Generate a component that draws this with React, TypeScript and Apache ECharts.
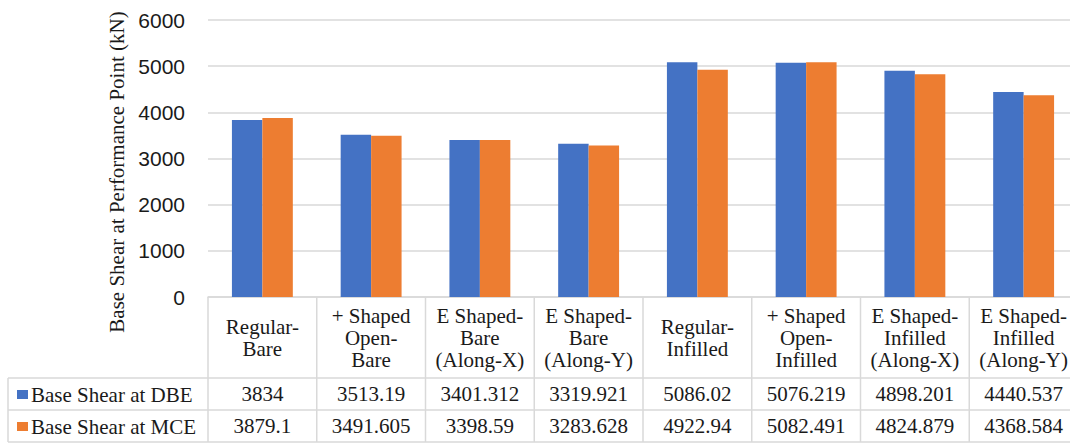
import React, { useEffect, useRef } from "react";
import * as echarts from "echarts";

const categories = [
  "Regular-\nBare",
  "+ Shaped\nOpen-\nBare",
  "E Shaped-\nBare\n(Along-X)",
  "E Shaped-\nBare\n(Along-Y)",
  "Regular-\nInfilled",
  "+ Shaped\nOpen-\nInfilled",
  "E Shaped-\nInfilled\n(Along-X)",
  "E Shaped-\nInfilled\n(Along-Y)",
];
const dbeValues = [3834, 3513.19, 3401.312, 3319.921, 5086.02, 5076.219, 4898.201, 4440.537];
const mceValues = [3879.1, 3491.605, 3398.59, 3283.628, 4922.94, 5082.491, 4824.879, 4368.584];
const seriesNames = ["Base Shear at DBE", "Base Shear at MCE"];
const yAxisTitle = "Base Shear at Performance Point (kN)";
const yMin = 0;
const yMax = 6000;
const yInterval = 1000;

const BLUE = "#4472C4";
const ORANGE = "#ED7D31";
const LINE = "#d9d9d9";
const TEXT = "#1a1a1a";
const SERIF = "Liberation Serif";
const SANS = "Liberation Sans";
const FS = 21;

// layout
const GL = 208;
const GW = 870;
const GT = 20;
const AXIS_Y = 297;
const ROW1 = 378;
const ROW2 = 410;
const ROW3 = 442;
const TABLE_LEFT = 8;

export default function App() {
  const ref = useRef<HTMLDivElement>(null);
  useEffect(() => {
    if (!ref.current) return;
    const chart = echarts.init(ref.current, undefined, { renderer: "svg" });
    const catW = GW / categories.length;
    const lines: any[] = [];
    [ROW1, ROW2, ROW3].forEach((y) => {
      lines.push({
        type: "line",
        shape: { x1: TABLE_LEFT, y1: y, x2: GL + GW, y2: y },
        style: { stroke: LINE, lineWidth: 1.5 },
        silent: true,
      });
    });
    lines.push({
      type: "line",
      shape: { x1: TABLE_LEFT, y1: ROW1, x2: TABLE_LEFT, y2: ROW3 },
      style: { stroke: LINE, lineWidth: 1.5 },
      silent: true,
    });
    for (let i = 0; i <= categories.length; i++) {
      const x = GL + i * catW;
      lines.push({
        type: "line",
        shape: { x1: x, y1: AXIS_Y, x2: x, y2: ROW3 },
        style: { stroke: LINE, lineWidth: 1.5 },
        silent: true,
      });
    }
    const graphic = [
      ...lines,
      {
        type: "text",
        x: 117,
        y: 172,
        rotation: Math.PI / 2,
        style: {
          text: yAxisTitle,
          fontFamily: SERIF,
          fontSize: FS,
          fill: TEXT,
          align: "center",
          verticalAlign: "middle",
        },
        silent: true,
      },
    ];

    const valueAxis = (vals: number[], rowMid: number) => ({
      type: "category",
      gridIndex: 0,
      position: "bottom",
      data: vals.map((v) => String(v)),
      axisLine: { show: false },
      axisTick: { show: false },
      splitLine: { show: false },
      axisLabel: {
        interval: 0,
        margin: rowMid - AXIS_Y,
        verticalAlign: "middle",
        fontFamily: SERIF,
        fontSize: FS,
        color: TEXT,
      },
    });

    chart.setOption({
      animation: false,
      backgroundColor: "#ffffff",
      grid: {
        left: GL,
        top: GT,
        width: GW,
        height: AXIS_Y - GT,
        containLabel: false,
        outerBoundsMode: "none",
      },
      legend: {
        orient: "vertical",
        left: 17,
        top: 384,
        icon: "rect",
        itemWidth: 11,
        itemHeight: 9,
        itemGap: 11,
        padding: 0,
        selectedMode: false,
        textStyle: { fontFamily: SERIF, fontSize: FS, color: TEXT, padding: [0, 0, 0, -2] },
        data: seriesNames,
      },
      xAxis: [
        {
          type: "category",
          data: categories,
          axisLine: { show: true, lineStyle: { color: LINE, width: 1.5 } },
          axisTick: { show: false },
          splitLine: { show: false },
          axisLabel: {
            interval: 0,
            margin: 41,
            verticalAlign: "middle",
            fontFamily: SERIF,
            fontSize: FS,
            lineHeight: 22,
            color: TEXT,
            align: "center",
          },
        },
        valueAxis(dbeValues, (ROW1 + ROW2) / 2),
        valueAxis(mceValues, (ROW2 + ROW3) / 2),
      ],
      yAxis: {
        type: "value",
        min: yMin,
        max: yMax,
        interval: yInterval,
        axisLine: { show: false },
        axisTick: { show: false },
        splitLine: { lineStyle: { color: LINE, width: 1.5 } },
        axisLabel: {
          fontFamily: SANS,
          fontSize: 21,
          color: TEXT,
          margin: 23,
          formatter: (v: number) => String(v),
        },
      },
      series: [
        {
          name: seriesNames[0],
          type: "bar",
          data: dbeValues,
          xAxisIndex: 0,
          barWidth: "28%",
          barGap: "0%",
          itemStyle: { color: BLUE },
        },
        {
          name: seriesNames[1],
          type: "bar",
          data: mceValues,
          xAxisIndex: 0,
          barWidth: "28%",
          barGap: "0%",
          itemStyle: { color: ORANGE },
        },
      ],
      graphic,
    });
    return () => chart.dispose();
  }, []);
  return (
    <div
      ref={ref}
      style={{ position: "absolute", left: 0, top: 0, width: 1070, height: 444 }}
    />
  );
}
